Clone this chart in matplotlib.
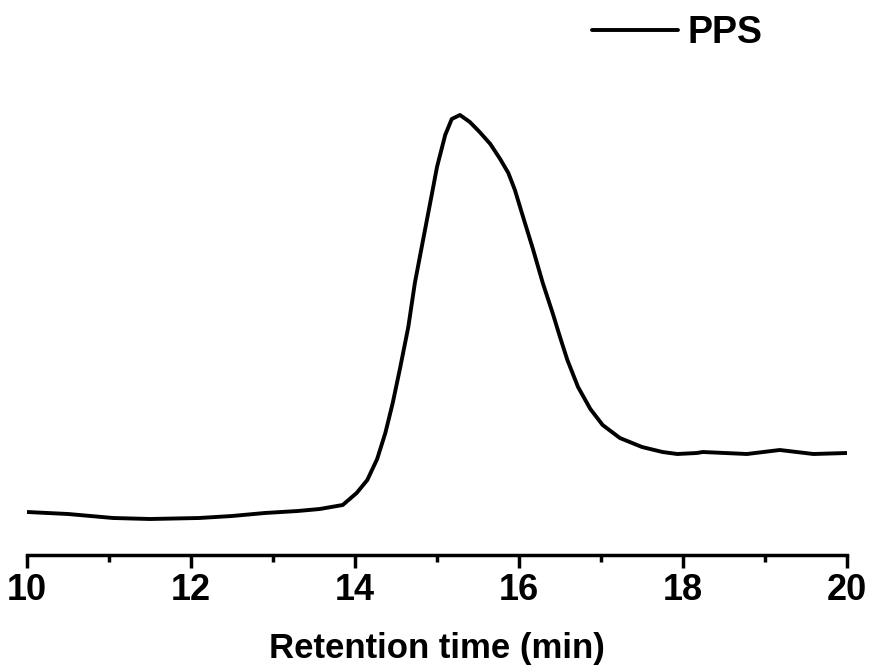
import matplotlib
matplotlib.use("Agg")
import matplotlib.pyplot as plt
from matplotlib.ticker import MultipleLocator

# Retention time (min) and detector response (arbitrary units)
time_min = [10.0, 10.5, 11.05, 11.5, 12.1, 12.5, 12.9, 13.3, 13.57, 13.85,
            14.02, 14.15, 14.27, 14.37, 14.46, 14.55, 14.65, 14.73, 14.83, 14.94,
            15.0, 15.1, 15.18, 15.28, 15.4, 15.52, 15.65, 15.77, 15.87, 15.95,
            16.05, 16.17, 16.29, 16.41, 16.5, 16.59, 16.72, 16.87, 17.02, 17.23,
            17.5, 17.75, 17.93, 18.17, 18.24, 18.78, 19.18, 19.59, 20.0]
signal = [43, 41, 37, 36, 37, 39, 42, 44, 46, 50,
          62, 75, 96, 122, 152, 187, 228, 272, 315, 362,
          388, 420, 436, 440, 433, 423, 411, 396, 382, 365,
          338, 306, 272, 242, 218, 195, 168, 146, 130, 117,
          108, 103, 101, 102, 103, 101, 105, 101, 102]

series_label = "PPS"
x_label = "Retention time (min)"
x_ticks = [10, 12, 14, 16, 18, 20]

plt.rcParams['font.family'] = ['Liberation Sans', 'DejaVu Sans']
plt.rcParams['font.weight'] = 'bold'

fig = plt.figure(figsize=(8.7, 6.68), dpi=100)
ax = fig.add_axes([27/870, (668-555)/668, (847-27)/870, (555-60)/668])
ax.plot(time_min, signal, color='black', lw=2.8, label=series_label,
        solid_joinstyle='round', solid_capstyle='round')
ax.set_xlim(10, 20)
ax.set_ylim(0, 495)
for s in ['top', 'right', 'left']:
    ax.spines[s].set_visible(False)
ax.spines['bottom'].set_linewidth(2.5)
ax.set_yticks([])
ax.set_xticks(x_ticks)
ax.xaxis.set_minor_locator(MultipleLocator(1))
ax.tick_params(axis='x', which='major', direction='out', length=9, width=2.5,
               labelsize=26, pad=4)
ax.tick_params(axis='x', which='minor', direction='out', length=5, width=2.5)
for t in ax.get_xticklabels():
    t.set_fontweight('bold')
ax.set_xlabel(x_label, fontsize=25, fontweight='bold', labelpad=17)
leg = ax.legend(loc='center left', bbox_to_anchor=(592/870, 1-33/668),
                bbox_transform=fig.transFigure, frameon=False,
                prop={'size': 27, 'weight': 'bold'}, handlelength=2.3,
                handletextpad=0.25, borderpad=0, borderaxespad=0)
fig.savefig("out.png", dpi=100)
